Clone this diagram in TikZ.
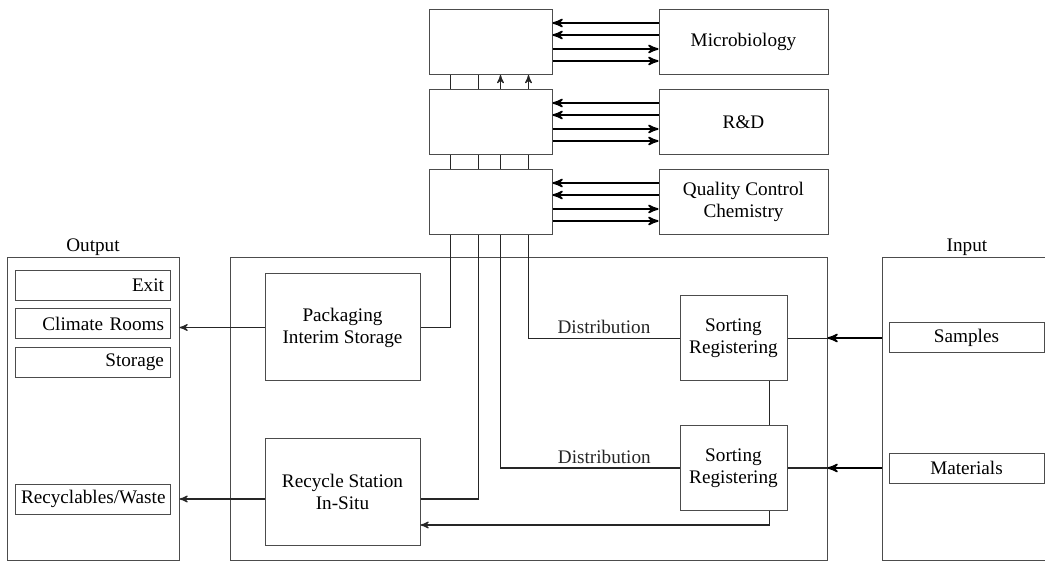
\documentclass[tikz,border=0pt]{standalone}
\usepackage{fontspec}
\setmainfont{Liberation Serif}
\usepackage{tikz}
\usetikzlibrary{arrows,positioning}

\begin{document}
\begin{tikzpicture}[x=0.5pt,y=-0.5pt,>=stealth',font=\fontsize{9.6}{11}\selectfont,
                    box/.style={draw=black!70,line width=0.5pt,inner sep=2pt,align=center},
                    hub/.style={box,minimum width=61.5pt,minimum height=32.5pt},
                    lab/.style={box,minimum width=84.5pt,minimum height=32.5pt},
                    frame/.style={box,minimum height=151pt},
                    item/.style={box,minimum width=77.5pt,minimum height=15pt,inner ysep=1pt},
                    outitem/.style={item,text width=71.5pt,align=right},
                    wire/.style={black!85,line width=0.55pt},
                    feed/.style={black,line width=0.85pt}]

  \useasboundingbox (0,0) rectangle (1045,561);

  % frames
  \node[frame,minimum width=298.5pt] (mid) at (528.5,409) {};
  \node[frame,minimum width=86pt,label={[inner sep=1pt]above:Output}] (out) at (93,409) {};
  \node[frame,minimum width=89pt,label={[inner sep=1pt,xshift=-2pt]above:Input}] (inbox) at (971,409) {};

  % labs on top
  \node[hub] (hub1) at (490.5,42) {};
  \node[hub] (hub2) [below=7pt of hub1] {};
  \node[hub] (hub3) [below=7pt of hub2] {};
  \node[lab] (micro) [right=53pt of hub1] {Microbiology};
  \node[lab] (rnd) [right=53pt of hub2] {R\&D};
  \node[lab] (qc) [right=53pt of hub3] {Quality Control\\Chemistry};

  % inside
  \node[box,minimum width=77.5pt,minimum height=53.5pt] (pack) at (342.5,327.5) {Packaging\\Interim Storage};
  \node[box,minimum width=77.5pt,minimum height=53pt] (recyc) at (342.5,492) {Recycle Station\\In-Situ};
  \node[box,minimum width=53.5pt,minimum height=42.5pt] (sort1) at (733.5,338.5) {Sorting\\Registering};
  \node[box,minimum width=53.5pt,minimum height=42pt] (sort2) at (733.5,468) {Sorting\\Registering};

  % output and input items
  \node[outitem] (exit) at (92.5,285.5) {Exit};
  \node[outitem] (climate) at (92.5,324) {Climate Rooms};
  \node[outitem] (storage) at (92.5,362.5) {Storage};
  \node[outitem] (waste) at (92.5,499) {Recyclables/Waste};
  \node[item] (samples) at (966.5,338) {Samples};
  \node[item] (materials) at (966.5,468) {Materials};

  % hub <-> labs
  \foreach \h/\l in {hub1/micro,hub2/rnd,hub3/qc} {
    \foreach \dy in {9.5,3.5}
      \draw[feed,->] ([yshift=\dy pt]\l.west) -- ([yshift=\dy pt]\h.east);
    \foreach \dy in {-3.5,-9.5}
      \draw[feed,->] ([yshift=\dy pt]\h.east) -- ([yshift=\dy pt]\l.west);
  }

  % lanes between hubs
  \foreach \dx in {11,25}
    \draw[wire] ([xshift=\dx pt]hub2.north west) -- ([xshift=\dx pt]hub1.south west);
  \foreach \dx in {36,50}
    \draw[wire,->] ([xshift=\dx pt]hub2.north west) -- ([xshift=\dx pt]hub1.south west);
  \foreach \dx in {11,25,36,50}
    \draw[wire] ([xshift=\dx pt]hub3.north west) -- ([xshift=\dx pt]hub2.south west);

  % lanes down
  \draw[wire] ([xshift=11pt]hub3.south west) |- (pack.east);
  \draw[wire] ([xshift=25pt]hub3.south west) |- ([yshift=-3.5pt]recyc.east);
  \draw[wire] ([xshift=36pt]hub3.south west) |- node[pos=0.79,above,inner sep=2pt] {Distribution} (sort2.west);
  \draw[wire] ([xshift=50pt]hub3.south west) |- node[pos=0.75,above,inner sep=2pt] {Distribution} (sort1.west);

  % sorting
  \draw[wire] ([xshift=-9pt]sort1.south east) -- ([xshift=-9pt]sort2.north east);
  \draw[wire,->] ([xshift=-9pt]sort2.south east) |- ([yshift=-16.5pt]recyc.east);

  % to output
  \draw[wire,->] (pack.west) -- (pack.west -| out.east);
  \draw[wire,->] ([yshift=-3.5pt]recyc.west) -- ([yshift=-3.5pt]recyc.west -| out.east);

  % from input
  \draw[feed,->] (inbox.west |- samples) -- (mid.east |- samples);
  \draw[wire] (mid.east |- sort1) -- (sort1.east);
  \draw[feed,->] (inbox.west |- materials) -- (mid.east |- materials);
  \draw[wire] (mid.east |- sort2) -- (sort2.east);

\end{tikzpicture}
\end{document}
